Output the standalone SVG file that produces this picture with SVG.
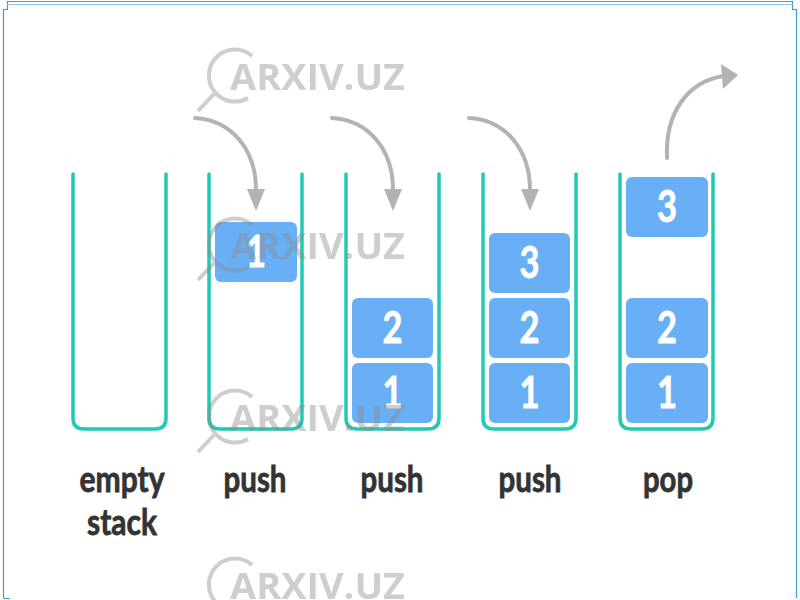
<svg xmlns="http://www.w3.org/2000/svg" xmlns:xlink="http://www.w3.org/1999/xlink" width="800" height="600" viewBox="0 0 800 600">
<style>
.stack{fill:none;stroke:#22c9b5;stroke-width:3.5;stroke-linecap:round;stroke-linejoin:round}
.blk{fill:#69aff6}
.num{fill:#ffffff;stroke:#ffffff;stroke-width:0.8;font-family:Lato,"Open Sans",sans-serif;font-weight:700;font-size:44px;text-anchor:middle}
.lbl{fill:#333333;stroke:#333333;stroke-width:0.8;font-family:Lato,"Open Sans",sans-serif;font-weight:700;font-size:37px;text-anchor:middle}
.arr{fill:none;stroke:#b3b3b3;stroke-width:4;stroke-linecap:round}
.head{fill:#b3b3b3}
.wm{opacity:0.42}
.wmt{fill:#8a8a8a;font-family:"Open Sans",Lato,sans-serif;font-weight:700;font-size:35px}
.wms{fill:none;stroke:#8a8a8a;stroke-width:4}
</style>
<defs>
<g id="wmark">
<path class="wms" d="M252,56 A26,26 0 1 0 248,98"/>
<path class="wms" d="M214,94 L198,111" stroke-width="6"/>
<text class="wmt" x="230" y="90" textLength="175" lengthAdjust="spacingAndGlyphs">ARXIV.UZ</text>
</g>
</defs>
<rect x="0" y="0" width="800" height="600" fill="#ffffff"/>
<g id="frame" fill="none" stroke="#3a9fd2" stroke-width="1.2">
<path d="M3.5,598 L3.5,9.5 L7.5,9.5 L7.5,1.5 L792.5,1.5 L792.5,9.5 L796.5,9.5 L796.5,598"/>
<line x1="7.5" y1="4.5" x2="792.5" y2="4.5" stroke="#8cc9ea" stroke-width="1"/>
<line x1="3.5" y1="598.5" x2="10" y2="598.5"/>
</g>
<g id="stack-empty">
<path class="stack" d="M73,174 L73,418 Q73,429 84,429 L155,429 Q166,429 166,418 L166,174"/>
<text class="lbl" x="122" y="492" textLength="85" lengthAdjust="spacingAndGlyphs">empty</text>
<text class="lbl" x="122" y="535" textLength="70" lengthAdjust="spacingAndGlyphs">stack</text>
</g>
<g id="stack-push1">
<path class="stack" d="M209,174 L209,418 Q209,429 220,429 L291,429 Q302,429 302,418 L302,174"/>
<rect class="blk" x="215" y="222" width="82" height="60" rx="6"/>
<text class="num" x="256" y="267" textLength="20" lengthAdjust="spacingAndGlyphs">1</text>
<text class="lbl" x="255" y="492" textLength="63" lengthAdjust="spacingAndGlyphs">push</text>
</g>
<g id="stack-push2">
<path class="stack" d="M346,174 L346,418 Q346,429 357,429 L428,429 Q439,429 439,418 L439,174"/>
<rect class="blk" x="352" y="298" width="81" height="60" rx="6"/>
<text class="num" x="392.5" y="343" textLength="20" lengthAdjust="spacingAndGlyphs">2</text>
<rect class="blk" x="352" y="363" width="81" height="60" rx="6"/>
<text class="num" x="392.5" y="408" textLength="20" lengthAdjust="spacingAndGlyphs">1</text>
<text class="lbl" x="392" y="492" textLength="63" lengthAdjust="spacingAndGlyphs">push</text>
</g>
<g id="stack-push3">
<path class="stack" d="M483,174 L483,418 Q483,429 494,429 L565,429 Q576,429 576,418 L576,174"/>
<rect class="blk" x="489" y="233" width="81" height="60" rx="6"/>
<text class="num" x="529.5" y="278" textLength="20" lengthAdjust="spacingAndGlyphs">3</text>
<rect class="blk" x="489" y="298" width="81" height="60" rx="6"/>
<text class="num" x="529.5" y="343" textLength="20" lengthAdjust="spacingAndGlyphs">2</text>
<rect class="blk" x="489" y="363" width="81" height="60" rx="6"/>
<text class="num" x="529.5" y="408" textLength="20" lengthAdjust="spacingAndGlyphs">1</text>
<text class="lbl" x="530" y="492" textLength="63" lengthAdjust="spacingAndGlyphs">push</text>
</g>
<g id="stack-pop">
<path class="stack" d="M620,174 L620,418 Q620,429 631,429 L702,429 Q713,429 713,418 L713,174"/>
<rect class="blk" x="626" y="177" width="82" height="60" rx="6"/>
<text class="num" x="667" y="222" textLength="20" lengthAdjust="spacingAndGlyphs">3</text>
<rect class="blk" x="626" y="298" width="82" height="60" rx="6"/>
<text class="num" x="667" y="343" textLength="20" lengthAdjust="spacingAndGlyphs">2</text>
<rect class="blk" x="626" y="363" width="82" height="60" rx="6"/>
<text class="num" x="667" y="408" textLength="20" lengthAdjust="spacingAndGlyphs">1</text>
<text class="lbl" x="668" y="492" textLength="50" lengthAdjust="spacingAndGlyphs">pop</text>
</g>
<g id="connectors">
<path class="arr" d="M195,118 C232,120 256,150 256,190"/>
<polygon class="head" points="247,189 265,189 256,211"/>
<path class="arr" d="M332,118 C369,120 393,150 393,190"/>
<polygon class="head" points="384,189 402,189 393,211"/>
<path class="arr" d="M469,118 C506,120 530,150 530,190"/>
<polygon class="head" points="521,189 539,189 530,211"/>
<path class="arr" d="M667,158 C665,112 688,82 723,76"/>
<polygon class="head" points="721,64 723,89 738,75"/>
</g>
<g id="watermarks" class="wm">
<use xlink:href="#wmark"/>
<use xlink:href="#wmark" y="169"/>
<use xlink:href="#wmark" y="341"/>
<use xlink:href="#wmark" y="509"/>
</g>
</svg>
